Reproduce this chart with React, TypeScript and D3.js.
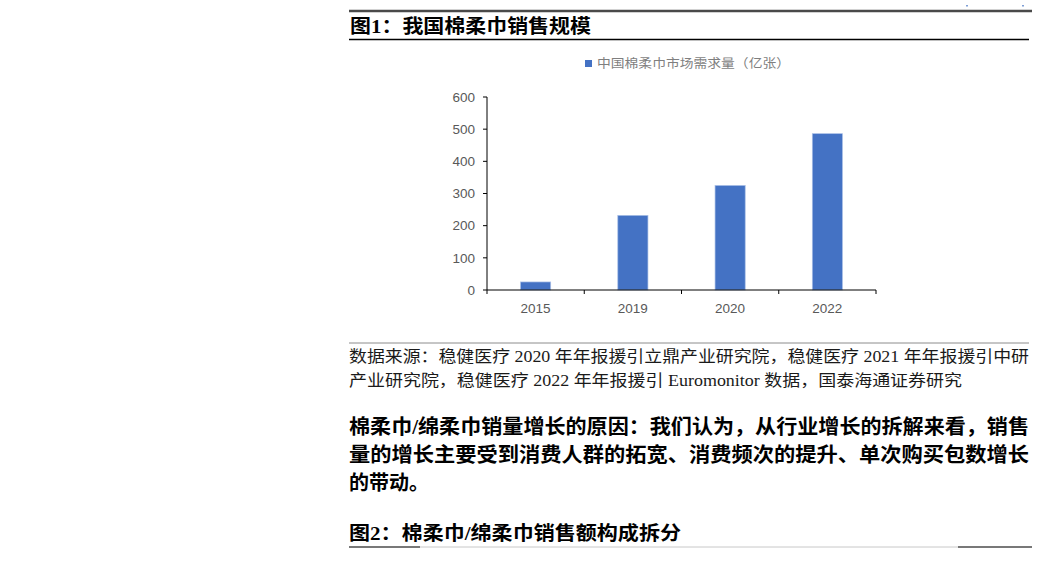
import React from 'react';
import * as d3 from 'd3';

// values
const years = ['2015', '2019', '2020', '2022'];
const demand = [25, 232, 325, 486];
const yTicks = [0, 100, 200, 300, 400, 500, 600];

const legendLabel = '中国棉柔巾市场需求量（亿张）';
const titleTop = '图1：我国棉柔巾销售规模';
const sourceLines = [
  '数据来源：稳健医疗 2020 年年报援引立鼎产业研究院，稳健医疗 2021 年年报援引中研',
  '产业研究院，稳健医疗 2022 年年报援引 Euromonitor 数据，国泰海通证券研究',
];
const bodyLines = [
  '棉柔巾/绵柔巾销量增长的原因：我们认为，从行业增长的拆解来看，销售',
  '量的增长主要受到消费人群的拓宽、消费频次的提升、单次购买包数增长',
  '的带动。',
];
const titleBottom = '图2：棉柔巾/绵柔巾销售额构成拆分';

const W = 1037;
const H = 561;
const plot = { left: 487, right: 876, top: 97, bottom: 290 };

const serif = '"Liberation Serif", "Noto Sans CJK SC", serif';
const sans = '"Liberation Sans", Arial, "Noto Sans CJK SC", sans-serif';

const App: React.FC = () => {
  const x = d3.scaleBand<string>()
    .domain(years)
    .range([plot.left, plot.right])
    .padding(0);

  const y = d3.scaleLinear()
    .domain([0, 600])
    .range([plot.bottom, plot.top]);

  const barW = x.bandwidth() * 0.31;
  const edges = [...years.map(d => x(d) as number), plot.right];

  return (
    <svg
      width={W}
      height={H}
      style={{ position: 'absolute', left: 0, top: 0, background: '#fff' }}
    >
      {/* page header rules */}
      <line x1={349} x2={1032} y1={11} y2={11} stroke="#4a4a4a" strokeWidth={2.5} />
      <rect x={966} y={5} width={2} height={1.5} fill="#7f9fd6" />
      <rect x={1022} y={5} width={2} height={1.5} fill="#7f9fd6" />

      <text
        x={350} y={33}
        fontFamily={serif} fontWeight="bold" fontSize={19}
        textLength={241} lengthAdjust="spacingAndGlyphs" fill="#000"
      >
        {titleTop}
      </text>
      <line x1={349} x2={1029} y1={39.5} y2={39.5} stroke="#000" strokeWidth={1.5} />

      {/* legend */}
      <rect x={585} y={60} width={7} height={7} fill="#4472C4" />
      <text
        x={597} y={68}
        fontFamily={sans} fontSize={12.5} fill="#7f7f7f"
        textLength={193} lengthAdjust="spacingAndGlyphs"
      >
        {legendLabel}
      </text>

      {/* bars */}
      {years.map((d, i) => {
        const cx = (x(d) as number) + x.bandwidth() / 2;
        return (
          <rect
            key={d}
            x={cx - barW / 2}
            y={y(demand[i])}
            width={barW}
            height={y(0) - y(demand[i])}
            fill="#4472C4"
            stroke="#a9bfe6"
            strokeWidth={0.7}
          />
        );
      })}

      {/* y axis */}
      <line x1={plot.left} x2={plot.left} y1={plot.top} y2={plot.bottom} stroke="#000" strokeWidth={1} />
      {yTicks.map(t => (
        <g key={t}>
          <line x1={plot.left - 4} x2={plot.left} y1={y(t)} y2={y(t)} stroke="#000" strokeWidth={1} />
          <text
            x={475} y={y(t)} dy="0.35em" textAnchor="end"
            fontFamily={sans} fontSize={13.5} fill="#595959"
          >
            {t}
          </text>
        </g>
      ))}

      {/* x axis */}
      <line x1={plot.left} x2={plot.right} y1={plot.bottom} y2={plot.bottom} stroke="#000" strokeWidth={1} />
      {edges.map((e, i) => (
        <line key={i} x1={e} x2={e} y1={plot.bottom} y2={plot.bottom + 4} stroke="#000" strokeWidth={1} />
      ))}
      {years.map(d => (
        <text
          key={d}
          x={(x(d) as number) + x.bandwidth() / 2} y={308} dy="0.35em" textAnchor="middle"
          fontFamily={sans} fontSize={13.5} fill="#595959"
        >
          {d}
        </text>
      ))}

      {/* source note */}
      <line x1={349} x2={1029} y1={343} y2={343} stroke="#8c8c8c" strokeWidth={1} />
      <text
        x={349} y={362} fontFamily={serif} fontSize={16} fill="#1a1a1a"
        textLength={680} lengthAdjust="spacingAndGlyphs"
      >
        {sourceLines[0]}
      </text>
      <text
        x={349} y={386} fontFamily={serif} fontSize={16} fill="#1a1a1a"
        textLength={613} lengthAdjust="spacingAndGlyphs"
      >
        {sourceLines[1]}
      </text>

      {/* body paragraph */}
      {bodyLines.map((l, i) => (
        <text
          key={i}
          x={349} y={434 + i * 28}
          fontFamily={serif} fontWeight="bold" fontSize={20} fill="#000"
          textLength={i < 2 ? 680 : 80} lengthAdjust="spacingAndGlyphs"
        >
          {l}
        </text>
      ))}

      {/* next figure title */}
      <text
        x={349} y={540}
        fontFamily={serif} fontWeight="bold" fontSize={19} fill="#000"
        textLength={332} lengthAdjust="spacingAndGlyphs"
      >
        {titleBottom}
      </text>
      <line x1={349} x2={1032} y1={547} y2={547} stroke="#c8c8c8" strokeWidth={1} />
      <line x1={349} x2={420} y1={547} y2={547} stroke="#555" strokeWidth={1.5} />
      <line x1={958} x2={1032} y1={547} y2={547} stroke="#555" strokeWidth={1.5} />
    </svg>
  );
};

export default App;
